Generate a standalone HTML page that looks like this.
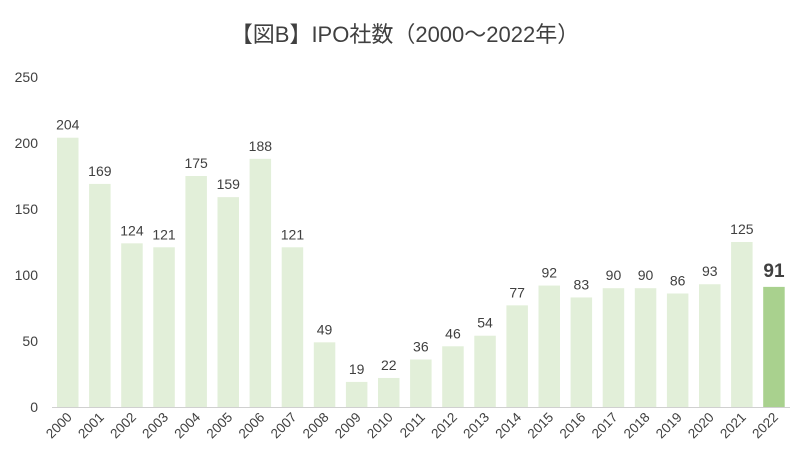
<!DOCTYPE html>
<html><head><meta charset="utf-8"><style>
body{margin:0;background:#fff;width:810px;height:467px;overflow:hidden}
text{font-family:"Liberation Sans","Noto Sans CJK JP",sans-serif;fill:#404040}
</style></head><body>
<svg id="s" width="810" height="467" xmlns="http://www.w3.org/2000/svg">
<text x="405" y="42" text-anchor="middle" font-size="22" fill="#404040">【図B】IPO社数（2000～2022年）</text>
<g font-size="14" text-anchor="end" fill="#595959">
<text x="38" y="412">0</text><text x="38" y="346">50</text><text x="38" y="280">100</text>
<text x="38" y="214">150</text><text x="38" y="148">200</text><text x="38" y="82">250</text>
</g>
<g id="bars"></g>
<line x1="52" y1="407.5" x2="790" y2="407.5" stroke="#d0d0d0" stroke-width="1"/>
</svg>
<script>
var v=[204,169,124,121,175,159,188,121,49,19,22,36,46,54,77,92,83,90,90,86,93,125,91];
var g=document.getElementById('bars'),h='';
for(var i=0;i<23;i++){var x=57+i*32.1,y=407-v[i]*1.32,c=x+10.75,last=i==22;
h+='<rect x="'+x+'" y="'+y+'" width="21.5" height="'+(407-y)+'" fill="'+(last?'#a9d18e':'#e2efd9')+'"/>';
h+='<text x="'+c+'" y="'+(y-(last?10:8))+'" text-anchor="middle" font-size="'+(last?19:14)+'"'+(last?' font-weight="bold"':'')+'>'+v[i]+'</text>';
h+='<text transform="translate('+(c+5)+',418) rotate(-45)" text-anchor="end" font-size="13.5">'+(2000+i)+'</text>';}
g.innerHTML=h;
</script>
</body></html>
